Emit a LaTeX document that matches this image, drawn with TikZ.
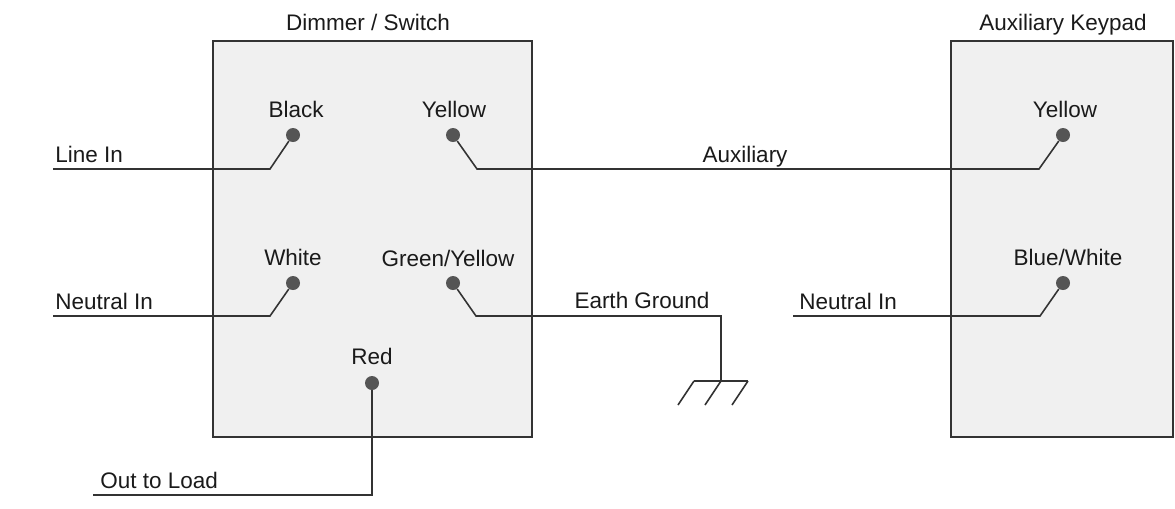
\documentclass[tikz,border=0pt]{standalone}
\usepackage{fontspec}
\setmainfont{Liberation Sans}
\usetikzlibrary{positioning}

\definecolor{boxfill}{HTML}{F0F0F0}
\definecolor{wirecol}{HTML}{333333}
\definecolor{pincol}{HTML}{555555}
\definecolor{txtcol}{HTML}{1A1A1A}

\begin{document}
\begin{tikzpicture}[x=0.02cm,y=-0.02cm,
        every node/.style={font=\fontsize{12.8}{15}\selectfont, text=txtcol},
        unit/.style={draw=wirecol, fill=boxfill, line width=1pt, inner sep=0pt, minimum height=7.92cm},
        terminal/.style={circle, fill=pincol, inner sep=0pt, minimum size=0.28cm},
        wire/.style={draw=wirecol, line width=0.9pt},
        lbl/.style={anchor=base, inner sep=0pt},
        side/.style={anchor=base west, inner sep=0pt}]
        \useasboundingbox (0,0) rectangle (1175,508);

        % units
        \node[unit, minimum width=6.38cm] (dimmer) at (372.5,239) {};
        \node[unit, minimum width=4.44cm] (keypad) at (1062,239) {};
        \node[lbl] (dimmertitle) at (368,30) {Dimmer / Switch};
        \node[lbl] (keypadtitle) at (1063,30) {Auxiliary Keypad};

        % terminals
        \node[terminal] (black) at (293,135) {};
        \node[terminal] (yellow) at (453,135) {};
        \node[terminal] (white) at (293,283) {};
        \node[terminal] (greenyellow) at (453,283) {};
        \node[terminal] (red) at (372,383) {};
        \node[terminal] (kpyellow) at (1063,135) {};
        \node[terminal] (kpbluewhite) at (1063,283) {};

        \node[lbl] at (296,117) {Black};
        \node[lbl] at (454,117) {Yellow};
        \node[lbl] at (293,265) {White};
        \node[lbl] at (448,266) {Green/Yellow};
        \node[lbl] at (372,364) {Red};
        \node[lbl] at (1065,117) {Yellow};
        \node[lbl] at (1068,265) {Blue/White};

        % free wire ends
        \coordinate (linein) at (53,169);
        \coordinate (neutralin) at (53,316);
        \coordinate (load) at (93,495);
        \coordinate (kpneutral) at (793,316);
        \coordinate (gnd) at (721,381);

        % wires
        \draw[wire] (black) -- (270,169) -- (linein);
        \draw[wire] (yellow) -- (477,169) -- (1039,169) -- (kpyellow);
        \draw[wire] (white) -- (270,316) -- (neutralin);
        \draw[wire] (greenyellow) -- (476,316) -- (721,316) -- (gnd);
        \draw[wire] (red) -- (372,495) -- (load);
        \draw[wire] (kpbluewhite) -- (1040,316) -- (kpneutral);

        % earth symbol
        \draw[wire] ([xshift=-27*0.02cm]gnd) -- ([xshift=27*0.02cm]gnd);
        \foreach \x in {-27,0,27}
            \draw[wire] ([xshift=\x*0.02cm]gnd) -- ++(-16,24);

        \node[side] at (55,162) {Line In};
        \node[side] at (55,309) {Neutral In};
        \node[side] at (100,488) {Out to Load};
        \node[side] at (799,309) {Neutral In};
        \node[lbl] at (745,162) {Auxiliary};
        \node[lbl] at (642,308) {Earth Ground};
\end{tikzpicture}
\end{document}
